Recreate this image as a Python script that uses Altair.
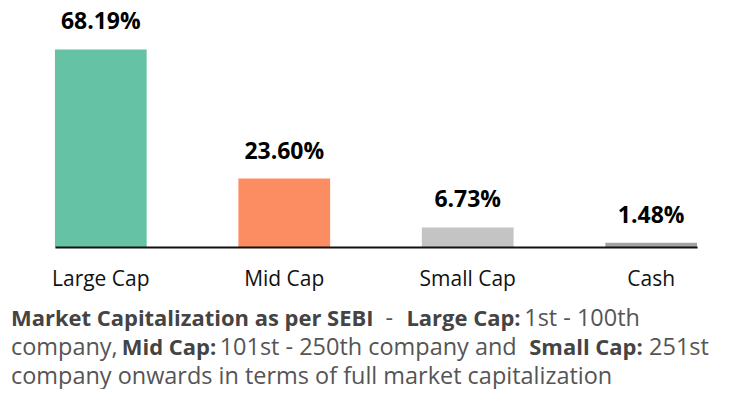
import altair as alt
import pandas as pd

# ---- data ----
categories = ["Large Cap", "Mid Cap", "Small Cap", "Cash"]
values = [68.19, 23.60, 6.73, 1.48]
value_labels = ["68.19%", "23.60%", "6.73%", "1.48%"]
bar_colors = ["#66c2a5", "#fc8d62", "#c4c4c4", "#a3a3a3"]

# footnote text, split into runs (text, bold?, line index)
note_texts = [
    "Market Capitalization as per SEBI", "-", "Large Cap:", "1st - 100th",
    "company,", "Mid Cap:", "101st - 250th company and", "Small Cap:", "251st",
    "company onwards in terms of full market capitalization",
]
note_bold = [True, False, True, False, False, True, False, True, False, False]
note_line = [0, 0, 0, 0, 1, 1, 1, 1, 1, 2]
# layout (page x of each run start)
note_x = [11, 386, 407, 525, 11, 122, 220, 530, 650, 11]

df = pd.DataFrame({"category": categories, "value": values, "label": value_labels})

FONT = "Open Sans"
NOTE_FONT = "Open Sans"

PAD_LEFT, PAD_TOP = 47, 10
W, H = 643, 229
YMAX = H / 2.9

x = alt.X(
    "category:N",
    sort=categories,
    scale=alt.Scale(paddingInner=0.5, paddingOuter=0),
    axis=alt.Axis(
        title=None, labelAngle=0, ticks=False, domainColor="#111111",
        domainWidth=2, labelFontSize=21, labelColor="#111111", labelFont=FONT,
        labelPadding=39, labelBaseline="alphabetic", zindex=1,
    ),
)
y = alt.Y("value:Q", scale=alt.Scale(domain=[0, YMAX], nice=False, zero=True), axis=None)

base = alt.Chart(df)
bars = base.mark_bar().encode(
    x=x, y=y,
    color=alt.Color("category:N", scale=alt.Scale(domain=categories, range=bar_colors), legend=None),
)
labels = base.mark_text(
    baseline="alphabetic", dy=-20, fontSize=23, fontWeight="bold", color="#000000", font=FONT
).encode(x=x, y=y, text="label:N")

layers = [bars, labels]
line_base = [326, 355, 384]
for t, b, ln, px in zip(note_texts, note_bold, note_line, note_x):
    layers.append(
        alt.Chart(pd.DataFrame({"t": [t]})).mark_text(
            align="left", baseline="alphabetic", fontSize=22 if b else 23.5,
            font=NOTE_FONT,
            fontWeight="bold" if b else "normal",
            color="#444444" if b else "#555555",
        ).encode(
            text="t:N",
            x=alt.value(px - 8 - PAD_LEFT),
            y=alt.value(line_base[ln] - 8 - PAD_TOP),
        )
    )

chart = alt.layer(*layers).properties(
    width=W, height=H,
    autosize=alt.AutoSizeParams(type="none"),
    padding={"left": PAD_LEFT, "top": PAD_TOP, "right": 25, "bottom": 142},
).configure_view(stroke=None)

chart.save("out.html", embed_options={"renderer": "svg", "actions": False})
